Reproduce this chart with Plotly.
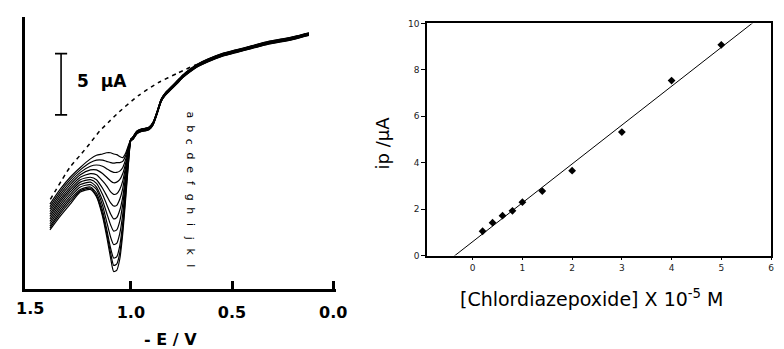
import plotly.graph_objects as go
import numpy as np

# ---------------- Left panel: voltammograms ----------------
curve_labels = ["a", "b", "c", "d", "e", "f", "g", "h", "i", "j", "k", "l"]

# potential grid (-E / V) for the peak region (high -> low)
E_peak = [1.40, 1.35, 1.30, 1.25, 1.20, 1.17, 1.14, 1.12, 1.10, 1.085, 1.07, 1.055, 1.04, 1.025, 1.01, 1.00]
# current (µA, relative) of each curve in the peak region
I_a = [6.9, 8.1, 9.1, 9.9, 10.6, 10.9, 11.0, 11.1, 11.1, 11.0, 10.95, 10.8, 10.7, 11.1, 11.8, 12.2]
I_b = [6.7, 7.9, 8.9, 9.7, 10.3, 10.5, 10.5, 10.4, 10.3, 10.25, 10.3, 10.3, 10.4, 10.9, 11.7, 12.2]
I_c = [6.5, 7.7, 8.7, 9.5, 10.0, 10.1, 10.0, 9.8, 9.6, 9.5, 9.5, 9.6, 9.9, 10.6, 11.6, 12.2]
I_d = [6.3, 7.5, 8.5, 9.3, 9.7, 9.7, 9.4, 9.1, 8.8, 8.65, 8.7, 8.9, 9.4, 10.3, 11.5, 12.2]
I_e = [6.1, 7.3, 8.3, 9.1, 9.4, 9.3, 8.8, 8.4, 7.9, 7.7, 7.75, 8.1, 8.8, 10.0, 11.4, 12.2]
I_f = [5.9, 7.1, 8.1, 8.9, 9.1, 8.9, 8.2, 7.6, 7.0, 6.75, 6.8, 7.3, 8.2, 9.7, 11.3, 12.2]
I_g = [5.7, 6.9, 7.9, 8.7, 8.9, 8.6, 7.7, 6.9, 6.1, 5.7, 5.8, 6.4, 7.5, 9.3, 11.2, 12.2]
I_h = [5.5, 6.7, 7.7, 8.5, 8.7, 8.3, 7.2, 6.2, 5.2, 4.7, 4.8, 5.5, 6.9, 9.0, 11.1, 12.2]
I_i = [5.3, 6.5, 7.5, 8.3, 8.5, 8.1, 6.8, 5.5, 4.2, 3.6, 3.7, 4.5, 6.1, 8.6, 11.0, 12.1]
I_j = [5.1, 6.3, 7.3, 8.1, 8.3, 7.8, 6.4, 4.9, 3.3, 2.5, 2.6, 3.5, 5.4, 8.2, 10.9, 12.1]
I_k = [4.95, 6.1, 7.1, 8.0, 8.2, 7.6, 6.1, 4.6, 2.9, 1.9, 2.0, 2.9, 4.9, 7.8, 10.7, 12.1]
I_l = [4.8, 5.9, 6.9, 7.9, 8.1, 7.5, 5.9, 4.3, 2.5, 1.4, 1.5, 2.4, 4.5, 7.5, 10.6, 12.1]
peak_currents = [I_a, I_b, I_c, I_d, I_e, I_f, I_g, I_h, I_i, I_j, I_k, I_l]

# common (overlapping) part of all curves
E_common = [0.99, 0.97, 0.95, 0.93, 0.91, 0.89, 0.87, 0.85, 0.83, 0.80, 0.77, 0.74,
            0.71, 0.67, 0.62, 0.55, 0.48, 0.40, 0.32, 0.25, 0.18, 0.12]
I_common = [12.3, 12.78, 12.94, 13.0, 13.1, 13.5, 14.4, 15.4, 15.9, 16.4, 16.9, 17.4,
            17.8, 18.25, 18.65, 19.1, 19.4, 19.75, 20.1, 20.3, 20.55, 20.8]
# small spread of each curve within the common bundle (µA)
common_spread = [0.10, 0.08, 0.06, 0.05, 0.02, 0.0, -0.02, -0.04, -0.06, -0.08, -0.10, -0.12]

# blank (dashed)
E_blank = [1.398, 1.301, 1.252, 1.204, 1.155, 1.107, 1.058, 0.961, 0.864, 0.767, 0.684, 0.621]
I_blank = [7.3, 9.92, 10.87, 11.83, 12.86, 13.65, 14.44, 15.79, 16.83, 17.62, 18.25, 18.65]

# ---------------- Right panel: calibration ----------------
conc = [0.2, 0.4, 0.6, 0.8, 1.0, 1.4, 2.0, 3.0, 4.0, 5.0]
ip = [1.05, 1.42, 1.72, 1.93, 2.30, 2.78, 3.66, 5.32, 7.54, 9.08]

FONT = "DejaVu Sans"
fig = go.Figure()

for lab, cur, sp in zip(curve_labels, peak_currents, common_spread):
    xs = list(E_peak) + list(E_common)
    ys = list(cur) + [v + sp for v in I_common]
    fig.add_trace(go.Scatter(x=xs, y=ys, mode="lines", name=lab,
                             line=dict(color="black", width=1.2, shape="spline", smoothing=0.6),
                             xaxis="x", yaxis="y", showlegend=False))

fig.add_trace(go.Scatter(x=E_blank, y=I_blank, mode="lines",
                         line=dict(color="black", width=1.5, dash="4px,4px", shape="spline", smoothing=0.6),
                         xaxis="x", yaxis="y", showlegend=False))

# fit line
m, b = np.polyfit(conc, ip, 1)
fx = [-0.92, 6.0]
fig.add_trace(go.Scatter(x=fx, y=[m * v + b for v in fx], mode="lines",
                         line=dict(color="black", width=1), xaxis="x2", yaxis="y2",
                         showlegend=False))
fig.add_trace(go.Scatter(x=conc, y=ip, mode="markers",
                         marker=dict(symbol="diamond", size=6, color="black"),
                         xaxis="x2", yaxis="y2", showlegend=False))

# scale bar (5 µA)
bar_x = 1.345
bar_y0, bar_y1 = 14.2, 19.2
shapes = [
    dict(type="line", xref="x", yref="y", x0=bar_x, x1=bar_x, y0=bar_y0, y1=bar_y1,
         line=dict(color="black", width=1.6)),
    dict(type="line", xref="x", yref="y", x0=bar_x + 0.03, x1=bar_x - 0.03, y0=bar_y0, y1=bar_y0,
         line=dict(color="black", width=1.6)),
    dict(type="line", xref="x", yref="y", x0=bar_x + 0.03, x1=bar_x - 0.03, y0=bar_y1, y1=bar_y1,
         line=dict(color="black", width=1.6)),
]

annotations = [
    dict(x=1.277, y=17.0, xref="x", yref="y", text="5 \u00a0µA", showarrow=False,
         xanchor="left", yanchor="middle",
         font=dict(family=FONT, size=17, color="black", weight="bold")),
    dict(x=1.5, y=(349 - 312) / 349, xref="x", yref="paper", text="1.5", showarrow=False,
         xanchor="center", yanchor="middle",
         font=dict(family=FONT, size=16, color="black", weight="bold")),
    dict(x=173 / 784, y=(349 - 344) / 349, xref="paper", yref="paper", text="- E / V",
         showarrow=False, xanchor="center", yanchor="middle",
         font=dict(family=FONT, size=16, color="black", weight="bold")),
    dict(x=600 / 784, y=(349 - 302) / 349, xref="paper", yref="paper",
         text="[Chlordiazepoxide] X 10<sup>-5</sup> M", showarrow=False,
         xanchor="center", yanchor="middle",
         font=dict(family=FONT, size=19, color="black")),
    dict(x=388 / 784, y=(349 - 142) / 349, xref="paper", yref="paper", text="ip /µA",
         textangle=-90, showarrow=False, xanchor="center", yanchor="middle",
         font=dict(family=FONT, size=18, color="black")),
]
for i, lab in enumerate(curve_labels):
    annotations.append(dict(x=193 / 784, y=(349 - (113 + i * 14.1)) / 349, xref="paper", yref="paper",
                            text=lab, textangle=90, showarrow=False,
                            xanchor="center", yanchor="middle",
                            font=dict(family=FONT, size=11, color="black")))

fig.update_layout(
    width=784, height=349,
    margin=dict(l=0, r=0, t=0, b=0),
    paper_bgcolor="white", plot_bgcolor="white",
    showlegend=False,
    shapes=shapes,
    annotations=annotations,
    xaxis=dict(domain=[25 / 784, 341 / 784], range=[1.525, -0.015], autorange=False,
               showline=True, linecolor="black", linewidth=3,
               ticks="inside", ticklen=8, tickwidth=3, tickcolor="black",
               tickvals=[1.0, 0.5, 0.0], ticktext=["1.0", "0.5", "0.0"],
               ticklabelstandoff=7,
               tickfont=dict(family=FONT, size=16, color="black", weight="bold"),
               showgrid=False, zeroline=False),
    yaxis=dict(domain=[(349 - 292) / 349, (349 - 12) / 349], range=[0, 22.22],
               showline=True, linecolor="black", linewidth=3,
               ticks="", showticklabels=False, showgrid=False, zeroline=False),
    xaxis2=dict(domain=[433 / 784, 782 / 784], range=[-0.92, 6.0], anchor="y2",
                showline=True, mirror=True, linecolor="black", linewidth=1.5,
                ticks="outside", ticklen=3, tickwidth=1, tickcolor="black",
                tickvals=[0, 1, 2, 3, 4, 5, 6],
                tickfont=dict(family=FONT, size=9, color="#222"),
                showgrid=False, zeroline=False),
    yaxis2=dict(domain=[(349 - 258) / 349, (349 - 19) / 349], range=[0, 10], anchor="x2",
                showline=True, mirror=True, linecolor="black", linewidth=1.5,
                ticks="outside", ticklen=4, tickwidth=1, tickcolor="black",
                tickvals=[0, 2, 4, 6, 8, 10],
                tickfont=dict(family=FONT, size=9, color="#222"),
                showgrid=False, zeroline=False),
)

fig.write_html("out.html")
